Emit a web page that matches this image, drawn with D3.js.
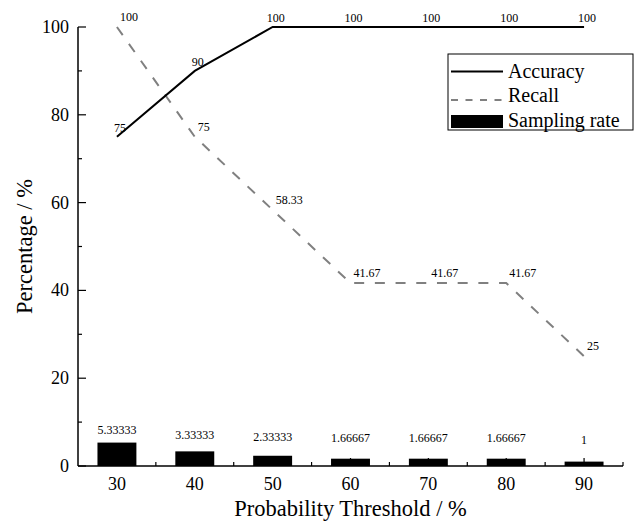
<!DOCTYPE html>
<html>
<head>
<meta charset="utf-8">
<script src="https://cdn.jsdelivr.net/npm/d3@7"></script>
<style>
body { margin: 0; background: #fff; }
text { font-family: "Liberation Serif", "Times New Roman", serif; }
</style>
</head>
<body>
<script>
var thresholds = ["30", "40", "50", "60", "70", "80", "90"];
var accuracy = [75, 90, 100, 100, 100, 100, 100];
var recall = [100, 75, 58.33, 41.67, 41.67, 41.67, 25];
var samplingRate = [5.33333, 3.33333, 2.33333, 1.66667, 1.66667, 1.66667, 1];
var yTicks = [0, 20, 40, 60, 80, 100];
var yMinor = [10, 30, 50, 70, 90];

var w = 642, h = 526;
var mLeft = 78, mRight = 623, mTop = 27, mBottom = 466;

var svg = d3.select("body").append("svg")
    .attr("width", w)
    .attr("height", h);

var x = d3.scaleBand().domain(thresholds).range([mLeft, mRight]).padding(0);
var y = d3.scaleLinear().domain([0, 100]).range([mBottom, mTop]);
var cx = function(i) { return x(thresholds[i]) + x.bandwidth() / 2; };

// bars
svg.selectAll("rect.bar")
    .data(samplingRate)
    .enter()
    .append("rect")
    .attr("class", "bar")
    .attr("x", function(d, i) { return cx(i) - x.bandwidth() / 4; })
    .attr("width", x.bandwidth() / 2)
    .attr("y", function(d) { return y(d); })
    .attr("height", function(d) { return y(0) - y(d); })
    .attr("fill", "#000");

svg.selectAll("text.barlab")
    .data(samplingRate)
    .enter()
    .append("text")
    .attr("class", "barlab")
    .attr("x", function(d, i) { return cx(i); })
    .attr("y", function(d) { return y(d / 2) - 20; })
    .attr("text-anchor", "middle")
    .attr("font-size", 12)
    .text(function(d) { return String(d); });

// lines
var line = function(vals) {
    return d3.line()
        .x(function(d, i) { return cx(i); })
        .y(function(d) { return y(d); })(vals);
};

svg.append("path")
    .attr("d", line(recall))
    .attr("fill", "none")
    .attr("stroke", "#808080")
    .attr("stroke-width", 2)
    .attr("stroke-dasharray", "10,10.7");

svg.append("path")
    .attr("d", line(accuracy))
    .attr("fill", "none")
    .attr("stroke", "#000")
    .attr("stroke-width", 2);

svg.selectAll("text.acclab")
    .data(accuracy)
    .enter()
    .append("text")
    .attr("class", "acclab")
    .attr("x", function(d, i) { return cx(i) + 3; })
    .attr("y", function(d) { return y(d) - 5; })
    .attr("text-anchor", "middle")
    .attr("font-size", 12)
    .text(function(d) { return d; });

svg.selectAll("text.reclab")
    .data(recall)
    .enter()
    .append("text")
    .attr("class", "reclab")
    .attr("x", function(d, i) { return cx(i) + 3; })
    .attr("y", function(d) { return y(d) - 6; })
    .attr("font-size", 12)
    .text(function(d) { return d; });

// axes
var xAxis = svg.append("g");
xAxis.append("line")
    .attr("x1", mLeft).attr("x2", mRight)
    .attr("y1", mBottom).attr("y2", mBottom)
    .attr("stroke", "#000").attr("stroke-width", 1.5);
xAxis.selectAll("line.xmaj")
    .data(thresholds)
    .enter().append("line")
    .attr("class", "xmaj")
    .attr("x1", function(d, i) { return cx(i); })
    .attr("x2", function(d, i) { return cx(i); })
    .attr("y1", mBottom).attr("y2", mBottom - 8)
    .attr("stroke", "#000").attr("stroke-width", 1.2);
xAxis.selectAll("line.xmin")
    .data(thresholds)
    .enter().append("line")
    .attr("class", "xmin")
    .attr("x1", function(d) { return x(d) + x.step(); })
    .attr("x2", function(d) { return x(d) + x.step(); })
    .attr("y1", mBottom).attr("y2", mBottom - 4)
    .attr("stroke", "#000").attr("stroke-width", 1.2);
xAxis.selectAll("text")
    .data(thresholds)
    .enter().append("text")
    .attr("x", function(d, i) { return cx(i); })
    .attr("y", mBottom + 24)
    .attr("text-anchor", "middle")
    .attr("font-size", 18)
    .text(function(d) { return d; });

var yAxis = svg.append("g");
yAxis.append("line")
    .attr("x1", mLeft).attr("x2", mLeft)
    .attr("y1", mBottom).attr("y2", mTop)
    .attr("stroke", "#000").attr("stroke-width", 1.5);
yAxis.selectAll("line.ymaj")
    .data(yTicks)
    .enter().append("line")
    .attr("class", "ymaj")
    .attr("x1", mLeft).attr("x2", mLeft + 8)
    .attr("y1", function(d) { return y(d); })
    .attr("y2", function(d) { return y(d); })
    .attr("stroke", "#000").attr("stroke-width", 1.2);
yAxis.selectAll("line.ymin")
    .data(yMinor)
    .enter().append("line")
    .attr("class", "ymin")
    .attr("x1", mLeft).attr("x2", mLeft + 4)
    .attr("y1", function(d) { return y(d); })
    .attr("y2", function(d) { return y(d); })
    .attr("stroke", "#000").attr("stroke-width", 1.2);
yAxis.selectAll("text")
    .data(yTicks)
    .enter().append("text")
    .attr("x", mLeft - 9)
    .attr("y", function(d) { return y(d) + 6; })
    .attr("text-anchor", "end")
    .attr("font-size", 18)
    .text(function(d) { return d; });

// titles
svg.append("text")
    .attr("x", (mLeft + mRight) / 2)
    .attr("y", 516)
    .attr("text-anchor", "middle")
    .attr("font-size", 22.5)
    .text("Probability Threshold / %");
svg.append("text")
    .attr("transform", "translate(32," + (mTop + mBottom) / 2 + ") rotate(-90)")
    .attr("text-anchor", "middle")
    .attr("font-size", 22.5)
    .text("Percentage / %");

// legend
var lg = svg.append("g").attr("transform", "translate(448,54)");
lg.append("rect")
    .attr("width", 185).attr("height", 76)
    .attr("fill", "#fff").attr("stroke", "#000").attr("stroke-width", 1);
lg.append("line")
    .attr("x1", 3).attr("x2", 55).attr("y1", 17.5).attr("y2", 17.5)
    .attr("stroke", "#000").attr("stroke-width", 2);
lg.append("line")
    .attr("x1", 3).attr("x2", 55).attr("y1", 46).attr("y2", 46)
    .attr("stroke", "#808080").attr("stroke-width", 2)
    .attr("stroke-dasharray", "7,7.5");
lg.append("rect")
    .attr("x", 3).attr("y", 61).attr("width", 52).attr("height", 13)
    .attr("fill", "#000");
var legendNames = ["Accuracy", "Recall", "Sampling rate"];
lg.selectAll("text")
    .data(legendNames)
    .enter().append("text")
    .attr("x", 60)
    .attr("y", function(d, i) { return 23.5 + i * 24.5; })
    .attr("font-size", 20)
    .text(function(d) { return d; });
</script>
</body>
</html>
